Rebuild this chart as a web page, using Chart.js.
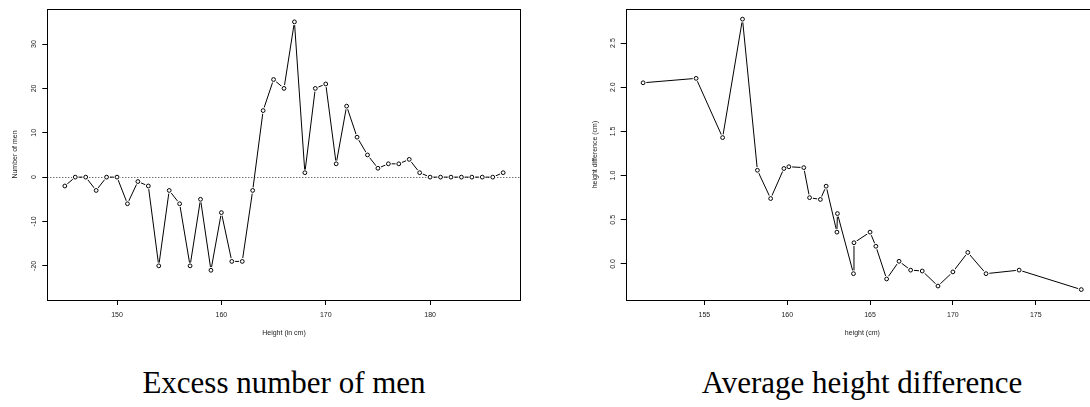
<!DOCTYPE html>
<html>
<head>
<meta charset="utf-8">
<script src="https://cdn.jsdelivr.net/npm/chart.js@4/dist/chart.umd.min.js"></script>
<style>
html,body{margin:0;padding:0;background:#fff;overflow:hidden;width:1090px;height:407px;position:relative;}
canvas{position:absolute;top:0;}
#c1{left:0;}
#c2{left:545px;}
.ttl{position:absolute;width:500px;text-align:center;font-family:"Liberation Serif","Times New Roman",serif;font-size:31px;line-height:1;color:#000;white-space:nowrap;}
</style>
</head>
<body>
<canvas id="c1" width="545" height="345"></canvas>
<canvas id="c2" width="565" height="345"></canvas>
<div class="ttl" style="left:34px;top:367px;">Excess number of men</div>
<div class="ttl" style="left:612px;top:367px;">Average height difference</div>
<script>
// ---- Left chart: excess number of men ----
const menHeights = [145,146,147,148,149,150,151,152,153,154,155,156,157,158,159,160,161,162,163,164,165,166,167,168,169,170,171,172,173,174,175,176,177,178,179,180,181,182,183,184,185,186,187];
const excessMen  = [-2,0,0,-3,0,0,-6,-1,-2,-20,-3,-6,-20,-5,-21,-8,-19,-19,-3,15,22,20,35,1,20,21,3,16,9,5,2,3,3,4,1,0,0,0,0,0,0,0,1];
const leftXTicks = [150,160,170,180];
const leftXTickLabels = ["150","160","170","180"];
const leftYTicks = [-20,-10,0,10,20,30];
const leftYTickLabels = ["-20","-10","0","10","20","30"];
const leftXRange = [143.32,188.68];
const leftYRange = [-27.7,37.9];
const zeroLineValue = 0;

// ---- Right chart: average height difference ----
const avgHeights = [151.3,154.5,156.1,157.3,158.2,159.0,159.8,160.1,161.0,161.35,162.0,162.35,163.0,163.03,164.0,164.03,165.0,165.35,166.0,166.75,167.45,168.15,169.1,170.0,170.9,172.0,174.0,177.75];
const heightDiff = [2.05,2.10,1.43,2.77,1.06,0.74,1.08,1.10,1.09,0.75,0.73,0.88,0.36,0.57,-0.11,0.24,0.36,0.20,-0.17,0.03,-0.07,-0.08,-0.25,-0.09,0.13,-0.11,-0.07,-0.29];
const rightXTicks = [155,160,165,170,175];
const rightXTickLabels = ["155","160","165","170","175"];
const rightYTicks = [0,0.5,1,1.5,2,2.5];
const rightYTickLabels = ["0.0","0.5","1.0","1.5","2.0","2.5"];
const rightXRange = [150.25,178.82];
const rightYRange = [-0.408,2.885];

const smallFont = {family:"'Liberation Sans', Arial, sans-serif", size:7};
const textColor = '#222';

const boxPlugin = {
  id:'box',
  afterDraw(chart){
    const {ctx, chartArea:a} = chart;
    ctx.save();
    ctx.strokeStyle = '#000';
    ctx.lineWidth = 1;
    ctx.strokeRect(Math.round(a.left)+0.5, Math.round(a.top)+0.5, Math.round(a.right-a.left), Math.round(a.bottom-a.top));
    ctx.restore();
  }
};

const zeroLinePlugin = {
  id:'zeroLine',
  beforeDatasetsDraw(chart, args, opts){
    if (!opts || !opts.show) return;
    const {ctx, chartArea:a} = chart;
    const y = Math.round(chart.scales.y.getPixelForValue(zeroLineValue)) + 0.5;
    ctx.save();
    ctx.strokeStyle = '#333';
    ctx.lineWidth = 1;
    ctx.setLineDash([1,2]);
    ctx.beginPath();
    ctx.moveTo(a.left, y);
    ctx.lineTo(a.right, y);
    ctx.stroke();
    ctx.restore();
  }
};

function makeChart(id, xs, ys, c){
  const pts = xs.map((x,i)=>({x:x, y:ys[i]}));
  return new Chart(document.getElementById(id), {
    type:'line',
    data:{datasets:[
      {data:pts, showLine:false, pointRadius:1.9, pointHoverRadius:1.9, pointBorderWidth:1,
       pointBorderColor:'#000', pointBackgroundColor:'#fff'},
      {data:pts, showLine:true, borderColor:'#000', borderWidth:1, tension:0, fill:false,
       pointRadius:3.3, pointHoverRadius:3.3, pointBorderWidth:0, pointBorderColor:'#fff', pointBackgroundColor:'#fff'}
    ]},
    options:{
      responsive:false, animation:false, events:[],
      layout:{padding:{left:0, top:9, right:c.padRight, bottom:0}},
      plugins:{legend:{display:false}, tooltip:{enabled:false}, zeroLine:{show:c.zero}},
      scales:{
        x:{type:'linear', position:'bottom', min:c.xRange[0], max:c.xRange[1],
           afterBuildTicks:s=>{ s.ticks = c.xTicks.map(v=>({value:v})); },
           afterFit:s=>{ s.height = 45; },
           grid:{drawOnChartArea:false, drawTicks:true, tickLength:5, color:'#000', lineWidth:1},
           border:{display:false},
           ticks:{font:smallFont, color:textColor, padding:6, minRotation:0, maxRotation:0, autoSkip:false,
                  callback:(v,i)=>c.xTickLabels[i]},
           title:{display:true, text:c.xTitle, font:smallFont, color:textColor, padding:{top:0,bottom:7.3}}
        },
        y:{type:'linear', position:'left', min:c.yRange[0], max:c.yRange[1],
           afterBuildTicks:s=>{ s.ticks = c.yTicks.map(v=>({value:v})); },
           afterFit:s=>{ s.width = c.yWidth; },
           grid:{drawOnChartArea:false, drawTicks:true, tickLength:5, color:'#000', lineWidth:1},
           border:{display:false},
           ticks:{font:smallFont, color:textColor, padding:c.yPad, minRotation:90, maxRotation:90, crossAlign:'center', autoSkip:false,
                  callback:(v,i)=>c.yTickLabels[i]},
           title:{display:true, text:c.yTitle, font:smallFont, color:textColor, padding:{top:c.yTitlePad,bottom:0}}
        }
      }
    },
    plugins:[zeroLinePlugin, boxPlugin]
  });
}

makeChart('c1', menHeights, excessMen, {
  padRight:24.3, xRange:leftXRange, yRange:leftYRange, xTicks:leftXTicks, xTickLabels:leftXTickLabels,
  yTicks:leftYTicks, yTickLabels:leftYTickLabels, yWidth:47.3, yPad:3.3, yTitlePad:10.8,
  xTitle:'Height (in cm)', yTitle:'Number of men', zero:true
});
makeChart('c2', avgHeights, heightDiff, {
  padRight:11, xRange:rightXRange, yRange:rightYRange, xTicks:rightXTicks, xTickLabels:rightXTickLabels,
  yTicks:rightYTicks, yTickLabels:rightYTickLabels, yWidth:80.7, yPad:2.8, yTitlePad:45.8,
  xTitle:'height (cm)', yTitle:'height difference (cm)', zero:false
});
</script>
</body>
</html>
